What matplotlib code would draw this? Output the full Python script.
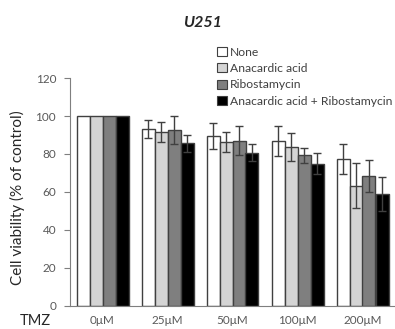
import matplotlib
matplotlib.use("Agg")
import matplotlib.pyplot as plt
import numpy as np
from matplotlib.patches import Patch

plt.rcParams['font.family'] = ['Lato', 'DejaVu Sans']

categories = ["0μM", "25μM", "50μM", "100μM", "200μM"]
series_names = ["None", "Anacardic acid", "Ribostamycin", "Anacardic acid + Ribostamycin"]
none_vals = [100, 93.0, 89.5, 87.0, 77.5]
none_err = [0, 4.7, 6.7, 7.9, 7.8]
ana_vals = [100, 91.6, 86.3, 83.8, 63.3]
ana_err = [0, 5.2, 5.1, 7.3, 12.0]
ribo_vals = [100, 92.6, 87.0, 79.3, 68.5]
ribo_err = [0, 7.2, 7.6, 4.1, 8.4]
combo_vals = [100, 85.6, 80.7, 74.9, 58.9]
combo_err = [0, 4.6, 4.5, 5.6, 8.8]

values = [none_vals, ana_vals, ribo_vals, combo_vals]
errors = [none_err, ana_err, ribo_err, combo_err]
colors = ["#ffffff", "#d4d4d4", "#7f7f7f", "#000000"]
edge = "#404040"

W, H = 395, 329
fig = plt.figure(figsize=(W / 100, H / 100), dpi=100)
ax = fig.add_axes([70 / W, 23.3 / H, 325 / W, 227.6 / H])

x = np.arange(len(categories))
bw = 0.2
for i, (vals, errs, c) in enumerate(zip(values, errors, colors)):
    pos = x + (i - 1.5) * bw
    ax.bar(pos, vals, width=bw, color=c, edgecolor=edge, linewidth=1.0, zorder=2)
    errs_plot = np.array(errs, dtype=float)
    mask = errs_plot > 0
    ax.errorbar(pos[mask], np.array(vals)[mask], yerr=errs_plot[mask], fmt='none',
                ecolor="#404040", elinewidth=1.0, capsize=3, capthick=1.0, zorder=3)

ax.set_xlim(-0.5, 4.5)
ax.set_ylim(0, 120)
ax.set_yticks(range(0, 121, 20))
ax.set_xticks(x)
ax.set_xticklabels(categories, fontsize=8.5, color="#595959")
ax.tick_params(axis='x', length=0, pad=7)
ax.tick_params(axis='y', labelsize=8.5, labelcolor="#595959", color="#7f7f7f", length=4, width=0.8, pad=6)
for s in ["top", "right"]:
    ax.spines[s].set_visible(False)
ax.spines["left"].set_color("#7f7f7f")
ax.spines["bottom"].set_color("#7f7f7f")
ax.spines["left"].set_linewidth(0.8)
ax.spines["bottom"].set_linewidth(0.8)

fig.text(17 / W, 1 - 198 / H, "Cell viability (% of control)", rotation=90, ha='center', va='center',
         fontsize=11, color="#262626")
fig.text(35 / W, 1 - 321 / H, "TMZ", ha='center', va='center', fontsize=10.5, color="#262626")
fig.text(203 / W, 1 - 23 / H, "U251", ha='center', va='center', fontsize=11.5,
         fontweight='bold', fontstyle='italic', color="#262626")

handles = [Patch(facecolor=c, edgecolor=edge, linewidth=0.8) for c in colors]
leg = fig.legend(handles, series_names, loc='upper left', bbox_to_anchor=(217 / W, 1 - 46.5 / H),
                 frameon=False, fontsize=8.7, handlelength=0.8, handleheight=0.8,
                 handletextpad=0.25, labelspacing=0.45, borderpad=0, borderaxespad=0)
for t in leg.get_texts():
    t.set_color("#404040")

fig.savefig("out.png", dpi=100)
